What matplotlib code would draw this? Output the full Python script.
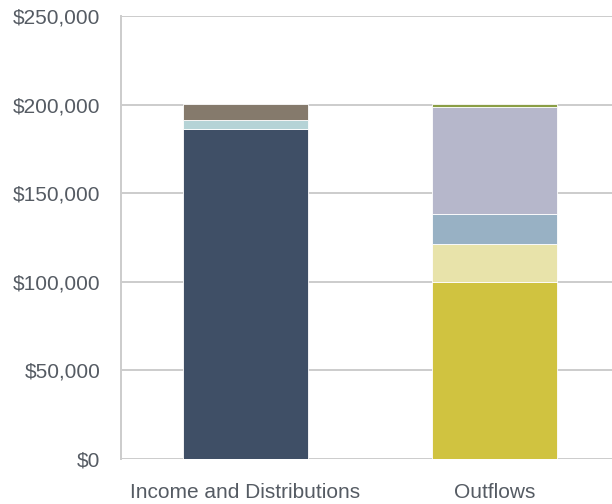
import matplotlib.pyplot as plt
from matplotlib.ticker import FuncFormatter

plt.rcParams["font.family"] = ["Liberation Sans", "DejaVu Sans"]

categories = ["Income and Distributions", "Outflows"]

# stacked segments, bottom to top
income_segments = [186500, 5000, 8700]
income_colors = ["#3F4F66", "#B5D3D6", "#857A6C"]

outflow_segments = [100000, 21500, 16800, 60200, 1800]
outflow_colors = ["#D0C340", "#E8E3AA", "#98B1C4", "#B6B7CB", "#8A9E45"]

yticks = [0, 50000, 100000, 150000, 200000, 250000]

fig = plt.figure(figsize=(6.12, 5.04), dpi=100)
ax = fig.add_axes([121 / 612, 45 / 504, 498 / 612, 443 / 504])

for i, (segs, cols) in enumerate(
    [(income_segments, income_colors), (outflow_segments, outflow_colors)]
):
    bottom = 0
    for v, c in zip(segs, cols):
        ax.bar(i, v, bottom=bottom, width=0.5, color=c,
               edgecolor="white", linewidth=0.6, zorder=3)
        bottom += v

ax.set_xlim(-0.5, 1.5)
ax.set_ylim(0, 250000)
ax.set_yticks(yticks)
ax.yaxis.set_major_formatter(FuncFormatter(lambda v, p: f"${v:,.0f}"))
ax.set_xticks(range(len(categories)))
ax.set_xticklabels(categories)

ax.grid(axis="y", color="#CCCCCC", linewidth=1.4, zorder=0)
for s in ["top", "right", "bottom"]:
    ax.spines[s].set_visible(False)
ax.spines["left"].set_color("#CCCCCC")
ax.spines["left"].set_linewidth(1.4)
ax.tick_params(axis="both", length=0, labelsize=15, labelcolor="#555B63")
ax.tick_params(axis="y", pad=15)
ax.tick_params(axis="x", pad=17)

fig.savefig("out.png", dpi=100)
